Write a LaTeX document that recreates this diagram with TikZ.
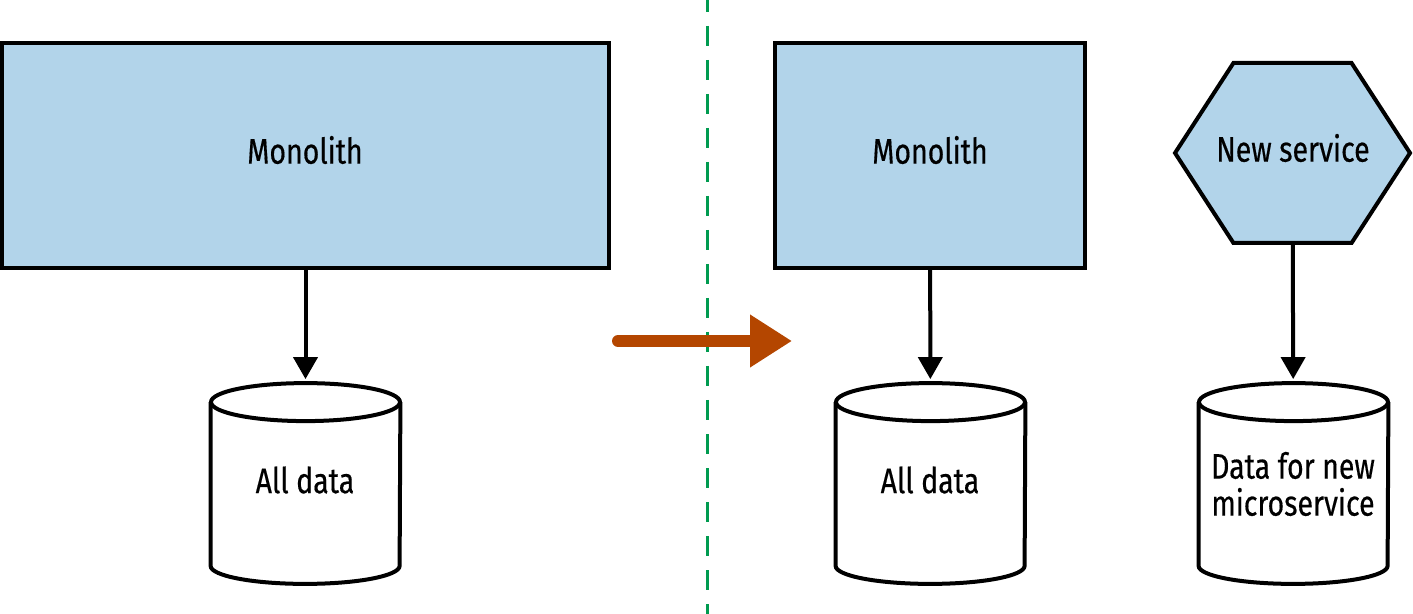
\documentclass[tikz,border=0pt]{standalone}
\usepackage{fontspec}
\setmainfont{Fira Sans}[FakeStretch=0.8,FakeBold=0.4]
\usetikzlibrary{arrows.meta,shapes.symbols}
\definecolor{boxblue}{RGB}{178,212,234}
\definecolor{moveorange}{RGB}{180,70,0}
\definecolor{splitgreen}{RGB}{0,155,80}

\begin{document}
\begin{tikzpicture}[x=0.5pt,y=-0.5pt,
  font=\fontsize{17.8}{18.5}\selectfont,
  box/.style={draw,line width=2pt,fill=boxblue,inner sep=0pt},
  store/.style={minimum width=94.5pt,minimum height=100pt,inner sep=0pt},
  hexa/.style={draw,line width=2pt,fill=boxblue,signal,signal to=west and east,
    signal pointer angle=114,minimum width=117.5pt,minimum height=90pt,inner sep=0pt},
  link/.style={line width=2pt,shorten >=2pt,-{Triangle[length=11pt,width=12pt]}}]
%\draw[help lines] (0,0) grid (1413,614);
\useasboundingbox (0,0) rectangle (1413,614);
% before
\node (mono) [box,minimum width=303.5pt,minimum height=112.5pt] at (305.5,155.5) {};
\node (monotxt) at (305,150) {Monolith};
\node (alldata) [store] at (305.5,483.5) {};
\node (alldatatxt) at (305,480) {All data};
% split line
\coordinate (top) at (707,0);
\coordinate (bot) at (707,614);
\draw[splitgreen,line width=1.5pt,dash pattern=on 10pt off 7pt,dash phase=4pt] (top) -- (bot);
% after
\node (mono2) [box,minimum width=155pt,minimum height=112.5pt] at (930,155.5) {};
\node (mono2txt) at (930,150) {Monolith};
\node (alldata2) [store] at (930.5,483.5) {};
\node (alldata2txt) at (930,480) {All data};
\node (svc) [hexa] at (1292.5,153) {};
\node (svctxt) at (1293,148) {New service};
\node (svcdata) [store] at (1293.5,483.5) {};
\node (svcdatatxt) [align=center] at (1293,484) {Data for new\\microservice};
% cylinders
\foreach \n in {alldata,alldata2,svcdata}{
  \draw[line width=2pt] ([yshift=-9.5pt]\n.north west) -- ([yshift=9pt]\n.south west)
    arc[start angle=180,end angle=360,x radius=47.25pt,y radius=9pt]
    -- ([yshift=-9.5pt]\n.north east);
  \draw[line width=2pt] ([yshift=-9.5pt]\n.north) ellipse[x radius=47.25pt,y radius=9.5pt];
}
% big arrow
\coordinate (from) at (618,341);
\coordinate (to) at (792,341);
\draw[moveorange,line width=6pt,line cap=round,-{Triangle[length=21pt,width=25pt]}] (from) -- (to);
\path[link]
(mono) edge (alldata)
(mono2) edge (alldata2)
(svc) edge (svcdata);
\end{tikzpicture}
\end{document}
